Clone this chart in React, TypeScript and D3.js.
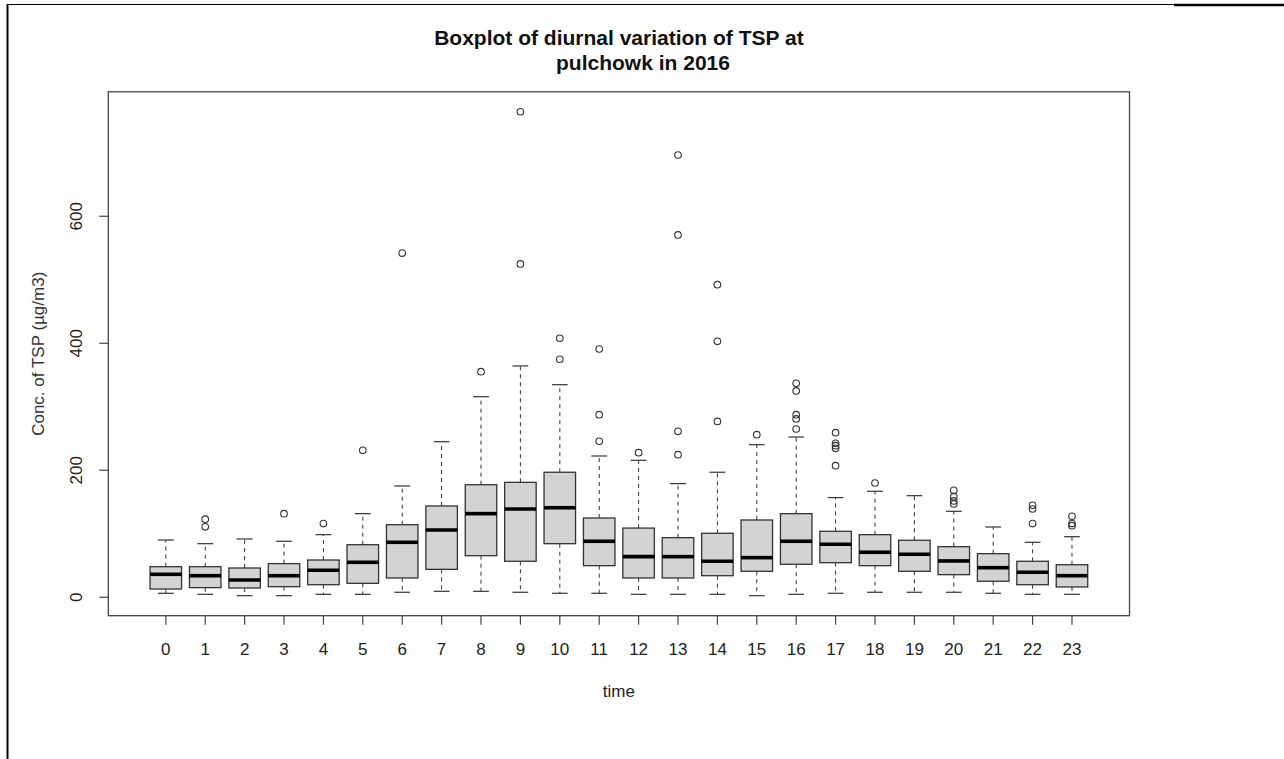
import React from "react";
import * as d3 from "d3";

const hours = ["0","1","2","3","4","5","6","7","8","9","10","11","12","13","14","15","16","17","18","19","20","21","22","23"];
const whiskerLow = [6.3,4.7,2.5,2.5,4.7,4.7,7.9,9.4,9.4,7.9,6.3,6.3,4.7,4.7,4.7,2.5,4.7,6.3,7.9,7.9,7.9,6.3,4.7,4.7];
const q1 = [13,15.2,14.6,16.7,19.8,22,30.4,44,65.5,56.7,84.4,49.8,30.4,30.4,34,40.9,52,54.5,49.8,40.9,35.6,25.2,19.8,16.2];
const median = [36.2,34,27.2,34,42.5,55.1,86.6,106,131.7,139,141,88.2,64,64,56.7,62.4,88.2,83.5,70.9,67.7,57.2,46.6,39.4,34];
const q3 = [48.2,48.2,46.1,53,58.7,82.8,114.3,143.8,177.3,181,196.9,124.9,109,93.9,100.8,121.7,131.7,103.9,98.6,89.8,79.7,68.7,56.7,51.3];
const whiskerHigh = [90.2,84.4,91.8,88.2,98.6,131.7,175.3,245,315.9,364.3,334.8,222.5,215.7,179,196.9,240.3,252.4,157,166.9,160,135.4,110.7,86.6,95.4];
const outliers: number[][] = [
  [],
  [111,123],
  [],
  [131.7],
  [116],
  [231.5],
  [542],
  [],
  [355.3],
  [524.9,764.6],
  [374.8,407.9],
  [245.7,287.6,391],
  [227.7],
  [224.6,261.4,570.6,696.5],
  [277,403.1,492.3],
  [256],
  [265,280.8,287.6,324.9,337],
  [207.3,234.6,238.7,242.5,259.2],
  [180],
  [],
  [147,151.7,158.4,168.5],
  [],
  [116,139,144.9],
  [112.8,116,127.6],
];
const yTicks = [0,200,400,600];

const W = 1284, H = 759;
const plotL = 108.3, plotR = 1129.5, plotT = 91.8, plotB = 615.7;

export default function App() {
  const n = hours.length;
  const x = d3.scaleLinear().domain([0.5 - 0.04 * n, n + 0.5 + 0.04 * n]).range([plotL, plotR]);
  const y = d3.scaleLinear().domain([-29, 796]).range([plotB, plotT]);
  const unit = x(2) - x(1);
  const boxW = unit * 0.8;
  const stapleW = boxW * 0.5;
  const font = "Liberation Sans, Arial, sans-serif";
  const midX = (plotL + plotR) / 2;
  const midY = (plotT + plotB) / 2;
  const stroke = "#333";
  const fs = 17;

  return (
    <div style={{ position: "absolute", left: 0, top: 0 }}>
      <svg width={W} height={H} style={{ display: "block", background: "#fff" }}>
        {/* outer frame lines */}
        <line x1={7.5} x2={7.5} y1={4} y2={H} stroke="#000" strokeWidth={2} />
        <line x1={7.5} x2={1174} y1={4.5} y2={4.5} stroke="#000" strokeWidth={1.2} />
        <line x1={1174} x2={W} y1={5} y2={5} stroke="#000" strokeWidth={2.5} />

        {/* title */}
        <text x={midX} y={45} textAnchor="middle" fontFamily={font} fontWeight="bold" fontSize={21} fill="#111">
          Boxplot of diurnal variation of TSP at
        </text>
        <text x={643} y={69.5} textAnchor="middle" fontFamily={font} fontWeight="bold" fontSize={21} fill="#111">
          pulchowk in 2016
        </text>

        {/* boxes */}
        {hours.map((h, i) => {
          const cx = x(i + 1);
          return (
            <g key={h}>
              <line x1={cx} x2={cx} y1={y(q3[i])} y2={y(whiskerHigh[i])} stroke={stroke} strokeWidth={1} strokeDasharray="4,4" />
              <line x1={cx} x2={cx} y1={y(q1[i])} y2={y(whiskerLow[i])} stroke={stroke} strokeWidth={1} strokeDasharray="4,4" />
              <line x1={cx - stapleW / 2} x2={cx + stapleW / 2} y1={y(whiskerHigh[i])} y2={y(whiskerHigh[i])} stroke={stroke} strokeWidth={1.2} />
              <line x1={cx - stapleW / 2} x2={cx + stapleW / 2} y1={y(whiskerLow[i])} y2={y(whiskerLow[i])} stroke={stroke} strokeWidth={1.2} />
              <rect x={cx - boxW / 2} y={y(q3[i])} width={boxW} height={y(q1[i]) - y(q3[i])} fill="#d3d3d3" stroke={stroke} strokeWidth={1.3} />
              <line x1={cx - boxW / 2} x2={cx + boxW / 2} y1={y(median[i])} y2={y(median[i])} stroke="#000" strokeWidth={3.6} />
              {outliers[i].map((v, k) => (
                <circle key={k} cx={cx} cy={y(v)} r={3.3} fill="none" stroke={stroke} strokeWidth={1.1} />
              ))}
            </g>
          );
        })}

        {/* plot frame */}
        <rect x={plotL} y={plotT} width={plotR - plotL} height={plotB - plotT} fill="none" stroke="#444" strokeWidth={1.3} />

        {/* y axis */}
        {yTicks.map((t) => (
          <g key={t}>
            <line x1={plotL - 9} x2={plotL} y1={y(t)} y2={y(t)} stroke="#444" strokeWidth={1.2} />
            <text transform={`translate(${82},${y(t)}) rotate(-90)`} textAnchor="middle" fontFamily={font} fontSize={fs} fill="#222">
              {t}
            </text>
          </g>
        ))}

        {/* x axis */}
        {hours.map((h, i) => (
          <g key={h}>
            <line x1={x(i + 1)} x2={x(i + 1)} y1={plotB} y2={plotB + 9} stroke="#444" strokeWidth={1.2} />
            <text x={x(i + 1)} y={654.5} textAnchor="middle" fontFamily={font} fontSize={fs} fill="#222">
              {h}
            </text>
          </g>
        ))}

        {/* axis labels */}
        <text x={midX} y={696.5} textAnchor="middle" fontFamily={font} fontSize={fs} fill="#222">
          time
        </text>
        <text transform={`translate(${44},${midY}) rotate(-90)`} textAnchor="middle" fontFamily={font} fontSize={fs} fill="#333">
          Conc. of TSP (µg/m3)
        </text>
      </svg>
    </div>
  );
}
